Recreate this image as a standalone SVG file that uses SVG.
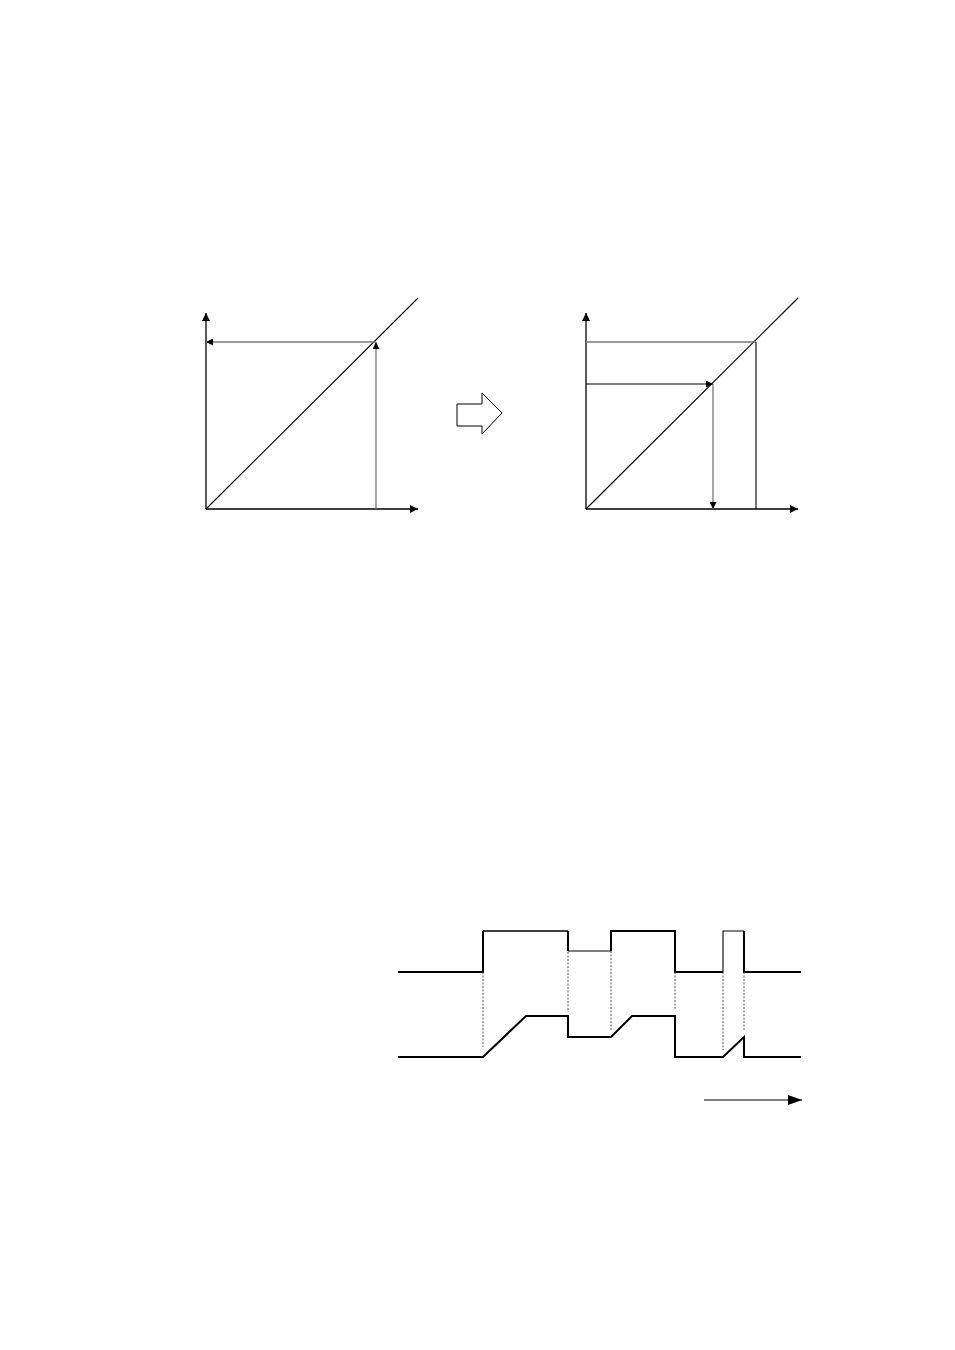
<svg xmlns="http://www.w3.org/2000/svg" width="955" height="1350" viewBox="0 0 955 1350">
<style>
.ax{stroke:#000;stroke-width:1.3;fill:none}
.g{stroke:#777;stroke-width:1.3;fill:none}
.k{stroke:#000;stroke-width:1.1;fill:none}
.w{stroke:#000;stroke-width:2;fill:none}
.wt{stroke:#000;stroke-width:1.5;fill:none}
.d{stroke:#555;stroke-width:1;stroke-dasharray:2,1.5;fill:none}
</style>
<defs>
<marker id="ah" viewBox="0 0 10 10" refX="10" refY="5" markerWidth="10" markerHeight="8" markerUnits="userSpaceOnUse" orient="auto"><path d="M0,0L10,5L0,10z" fill="#000"/></marker>
<marker id="ahs" viewBox="0 0 10 10" refX="10" refY="5" markerWidth="8" markerHeight="7" markerUnits="userSpaceOnUse" orient="auto"><path d="M0,0L10,5L0,10z" fill="#000"/></marker>
<marker id="ahb" viewBox="0 0 14 10" refX="14" refY="5" markerWidth="14" markerHeight="10" markerUnits="userSpaceOnUse" orient="auto"><path d="M0,0L14,5L0,10z" fill="#000"/></marker>
</defs>
<g id="graph-left">
<line class="ax" x1="206" y1="509" x2="206" y2="313" marker-end="url(#ah)"/>
<line class="ax" x1="206" y1="509" x2="418" y2="509" marker-end="url(#ah)"/>
<line class="k" x1="206" y1="509" x2="418" y2="298"/>
<line class="g" x1="376" y1="509" x2="376" y2="342" marker-end="url(#ahs)"/>
<line class="g" x1="376" y1="342" x2="206" y2="342" marker-end="url(#ahs)"/>
</g>
<g id="hollow-arrow">
<path d="M457,404H482V393L502,413L482,434V426H457Z" fill="#fff" stroke="#000" stroke-width="1"/>
</g>
<g id="graph-right">
<line class="ax" x1="586" y1="509" x2="586" y2="313" marker-end="url(#ah)"/>
<line class="ax" x1="586" y1="509" x2="798" y2="509" marker-end="url(#ah)"/>
<line class="k" x1="586" y1="509" x2="798" y2="298"/>
<line class="g" x1="586" y1="342" x2="756" y2="342"/>
<line class="k" x1="756" y1="342" x2="756" y2="509"/>
<line class="k" x1="586" y1="384" x2="713" y2="384" marker-end="url(#ahs)"/>
<line class="g" x1="713" y1="384" x2="713" y2="509" marker-end="url(#ahs)"/>
</g>
<g id="waveform-top">
<path class="w" d="M398,972H483V931"/>
<path class="wt" d="M483,931H568"/>
<path class="w" d="M568,931V951"/>
<path class="k" d="M568,951H611"/>
<path class="w" d="M611,951V931H675V972H723"/>
<path class="k" d="M723,972V931H744"/>
<path class="w" d="M744,931V972H801"/>
</g>
<g id="waveform-bottom">
<path class="w" d="M398,1057H483L526,1016H568V1037H611L632,1016H675V1057H723L744,1037V1057H801"/>
</g>
<g id="connectors">
<line class="d" x1="483" y1="972" x2="483" y2="1047"/>
<line class="d" x1="568" y1="952" x2="568" y2="1012"/>
<line class="d" x1="611" y1="951" x2="611" y2="1030"/>
<line class="d" x1="675" y1="972" x2="675" y2="1010"/>
<line class="d" x1="723" y1="972" x2="723" y2="1050"/>
<line class="d" x1="744" y1="972" x2="744" y2="1030"/>
<line class="k" x1="704" y1="1100" x2="802" y2="1100" stroke-width="1.3" marker-end="url(#ahb)"/>
</g>
</svg>
